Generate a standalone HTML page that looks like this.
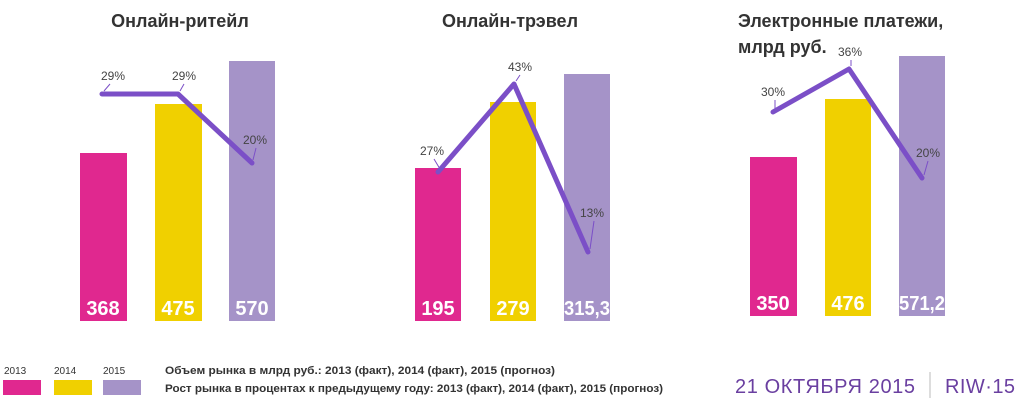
<!DOCTYPE html><html><head><meta charset="utf-8"><style>
body{margin:0;width:1024px;height:404px;background:#fff;overflow:hidden;font-family:"Liberation Sans",sans-serif;}
</style></head><body>
<svg width="1024" height="404" xmlns="http://www.w3.org/2000/svg" font-family="Liberation Sans, sans-serif">
<g font-weight="bold" font-size="18" fill="#333">
<text x="180" y="27" text-anchor="middle">Онлайн-ритейл</text>
<text x="510" y="27" text-anchor="middle">Онлайн-трэвел</text>
<text x="738" y="27">Электронные платежи,</text>
<text x="738" y="53">млрд руб.</text>
</g>
<g>
<rect x="80" y="153" width="47" height="168" fill="#e0288f"/>
<rect x="155" y="104" width="47" height="217" fill="#f0d000"/>
<rect x="229" y="61" width="46" height="260" fill="#a593c8"/>
<rect x="415" y="168" width="46" height="153" fill="#e0288f"/>
<rect x="490" y="102" width="46" height="219" fill="#f0d000"/>
<rect x="564" y="74" width="46" height="247" fill="#a593c8"/>
<rect x="750" y="157" width="47" height="159" fill="#e0288f"/>
<rect x="825" y="99" width="46" height="217" fill="#f0d000"/>
<rect x="899" y="56" width="46" height="260" fill="#a593c8"/>
</g>
<g fill="none" stroke="#7b4fc7" stroke-width="5" stroke-linecap="round" stroke-linejoin="round">
<polyline points="102,94 178,94 252,163"/>
<polyline points="438,172 514,84 588,252"/>
<polyline points="773,112 849,69 922,178"/>
</g>
<g fill="none" stroke="#7b4fc7" stroke-width="1">
<line x1="104" y1="91" x2="110" y2="84"/><line x1="180" y1="91" x2="184" y2="84"/><line x1="253" y1="160" x2="256" y2="148"/>
<line x1="440" y1="169" x2="434" y2="159"/><line x1="516" y1="81" x2="520" y2="75"/><line x1="590" y1="249" x2="594" y2="221"/>
<line x1="775" y1="109" x2="775" y2="100"/><line x1="851" y1="66" x2="851" y2="60"/><line x1="924" y1="175" x2="928" y2="161"/>
</g>
<g font-size="12" fill="#444" text-anchor="middle">
<text x="113" y="80">29%</text><text x="184" y="80">29%</text><text x="255" y="144">20%</text>
<text x="432" y="155">27%</text><text x="520" y="71">43%</text><text x="592" y="217">13%</text>
<text x="773" y="96">30%</text><text x="850" y="56">36%</text><text x="928" y="157">20%</text>
</g>
<g font-size="20" font-weight="bold" fill="#fff" text-anchor="middle">
<text x="103" y="315">368</text><text x="178" y="315">475</text><text x="252" y="315">570</text>
<text x="438" y="315">195</text><text x="513" y="315">279</text><text x="587" y="315" textLength="46" lengthAdjust="spacingAndGlyphs">315,3</text>
<text x="773" y="310">350</text><text x="848" y="310">476</text><text x="922" y="310" textLength="46" lengthAdjust="spacingAndGlyphs">571,2</text>
</g>
<g font-size="10" fill="#333">
<text x="4" y="374">2013</text><text x="54" y="374">2014</text><text x="103" y="374">2015</text>
</g>
<rect x="3" y="380" width="38" height="15" fill="#e0288f"/>
<rect x="54" y="380" width="38" height="15" fill="#f0d000"/>
<rect x="103" y="380" width="38" height="15" fill="#a593c8"/>
<g font-size="11" font-weight="bold" fill="#333">
<text x="165" y="374" textLength="390" lengthAdjust="spacingAndGlyphs">Объем рынка в млрд руб.: 2013 (факт), 2014 (факт), 2015 (прогноз)</text>
<text x="165" y="392" textLength="498" lengthAdjust="spacingAndGlyphs">Рост рынка в процентах к предыдущему году: 2013 (факт), 2014 (факт), 2015 (прогноз)</text>
</g>
<text x="735" y="393" font-size="20" fill="#6a3fa0" textLength="180">21 ОКТЯБРЯ 2015</text>
<line x1="930" y1="372" x2="930" y2="398" stroke="#bbb" stroke-width="1"/>
<text x="945" y="393" font-size="20" fill="#6a3fa0" textLength="70">RIW·15</text>
</svg>
</body></html>
